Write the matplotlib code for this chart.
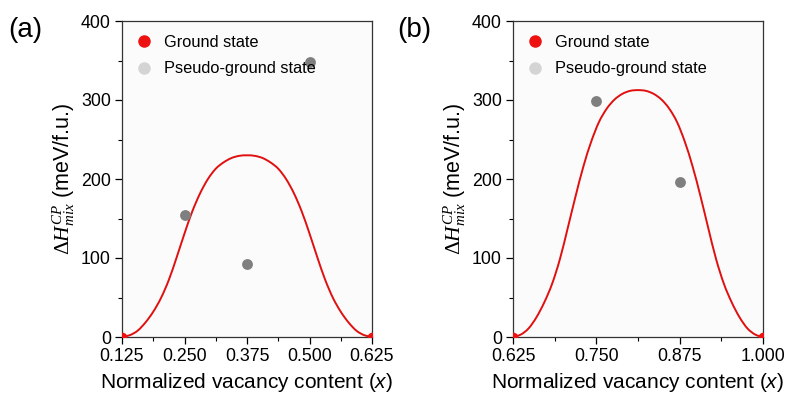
import matplotlib
matplotlib.use("Agg")
import numpy as np
import matplotlib.pyplot as plt
from matplotlib.lines import Line2D
from matplotlib.path import Path
from matplotlib.patches import PathPatch
from matplotlib.ticker import MultipleLocator

plt.rcParams["font.family"] = ["Liberation Sans", "DejaVu Sans"]
plt.rcParams["mathtext.fontset"] = "custom"
plt.rcParams["mathtext.rm"] = "Liberation Serif"
plt.rcParams["mathtext.it"] = "Liberation Serif:italic"
plt.rcParams["mathtext.sf"] = "Liberation Sans:italic"

# ---- panel (a) ----
a_ground_x = [0.125, 0.625]
a_ground_y = [0, 0]
a_pseudo_x = [0.250, 0.375, 0.500]
a_pseudo_y = [155, 93, 348]
# fitted curve
a_curve_x = [0.125, 0.1406, 0.1563, 0.1719, 0.1875, 0.2031, 0.2188, 0.2344,
             0.250, 0.2656, 0.2813, 0.2969, 0.3125, 0.3281, 0.3438, 0.3594,
             0.375, 0.3906, 0.4063, 0.4219, 0.4375, 0.4531, 0.4688, 0.4844,
             0.500, 0.5156, 0.5313, 0.5469, 0.5625, 0.5781, 0.5938, 0.6094, 0.625]
a_curve_y = [0, 2.3, 8, 18.4, 32, 49.5, 72.5, 101,
             131, 159, 182, 200, 213, 221, 226.5, 229.3,
             230, 229.3, 226.5, 221, 213, 200, 182, 159,
             131, 101, 72.5, 49.5, 32, 18.4, 8, 2.3, 0]

# ---- panel (b) ----
b_ground_x = [0.625, 1.000]
b_ground_y = [0, 0]
b_pseudo_x = [0.750, 0.875]
b_pseudo_y = [299, 196]
b_curve_x = [0.625, 0.6367, 0.6484, 0.6602, 0.6719, 0.6836, 0.6953, 0.7070,
             0.7188, 0.7305, 0.7422, 0.7539, 0.7656, 0.7773, 0.7891, 0.8008,
             0.8125, 0.8242, 0.8359, 0.8477, 0.8594, 0.8711, 0.8828, 0.8945,
             0.9063, 0.9180, 0.9297, 0.9414, 0.9531, 0.9648, 0.9766, 0.9883, 1.000]
b_curve_y = [0, 3.1, 10.9, 25, 43.8, 67.2, 98.4, 137.5,
             178, 215.6, 247, 272, 289, 300.6, 307.8, 311.6,
             312.5, 311.6, 307.8, 300.6, 289, 272, 247, 215.6,
             178, 137.5, 98.4, 67.2, 43.8, 25, 10.9, 3.1, 0]

panels = [
    ("(a)", a_ground_x, a_ground_y, a_pseudo_x, a_pseudo_y, a_curve_x, a_curve_y,
     [0.125, 0.250, 0.375, 0.500, 0.625]),
    ("(b)", b_ground_x, b_ground_y, b_pseudo_x, b_pseudo_y, b_curve_x, b_curve_y,
     [0.625, 0.750, 0.875, 1.000]),
]
lefts = [122 / 785, 513 / 785]
label_x = [8 / 785, 397 / 785]


def smooth_path(xs, ys):
    # Catmull-Rom through the read points, drawn as cubic Bezier segments
    pts = np.column_stack([xs, ys]).astype(float)
    n = len(pts)
    verts = [pts[0]]
    codes = [Path.MOVETO]
    for i in range(n - 1):
        p0 = pts[max(i - 1, 0)]
        p1 = pts[i]
        p2 = pts[i + 1]
        p3 = pts[min(i + 2, n - 1)]
        verts += [p1 + (p2 - p0) / 6, p2 - (p3 - p1) / 6, p2]
        codes += [Path.CURVE4] * 3
    return Path(verts, codes)


fig = plt.figure(figsize=(7.85, 3.94), dpi=100)
for k, (tag, gx, gy, px, py, cx, cy, xt) in enumerate(panels):
    ax = fig.add_axes([lefts[k], 57 / 394, 250 / 785, 316 / 394])
    ax.set_facecolor("#fbfbfb")
    ax.add_patch(PathPatch(smooth_path(cx, cy), fill=False, edgecolor="#e01010",
                           lw=1.4, zorder=2, transform=ax.transData))
    ax.plot(px, py, "o", color="#7f7f7f", ms=7.8, mec="none", zorder=3)
    ax.plot(gx, gy, "o", color="#ee1111", ms=7, mec="none", zorder=4)
    ax.set_xlim(xt[0], xt[-1])
    ax.set_ylim(0, 400)
    ax.set_xticks(xt)
    ax.set_xticklabels([f"{v:.3f}" for v in xt])
    ax.xaxis.set_minor_locator(MultipleLocator(0.0625))
    ax.yaxis.set_major_locator(MultipleLocator(100))
    ax.yaxis.set_minor_locator(MultipleLocator(50))
    ax.tick_params(which="major", length=5, width=0.9, labelsize=12.8, pad=3)
    ax.tick_params(which="minor", length=3, width=0.8)
    for s in ax.spines.values():
        s.set_linewidth(0.9)
        s.set_color("#333333")
    ax.set_xlabel("Normalized vacancy content ($\\mathsf{x}$)", fontsize=15, labelpad=4)
    ax.set_ylabel("$\\Delta H_{mix}^{CP}$ (meV/f.u.)", fontsize=15.5, labelpad=3)
    handles = [
        Line2D([], [], ls="none", marker="o", ms=9, color="#ee1111", mec="none"),
        Line2D([], [], ls="none", marker="o", ms=9, color="#d4d4d4", mec="none"),
    ]
    ax.legend(handles, ["Ground state", "Pseudo-ground state"], loc="upper left",
              frameon=False, fontsize=11.8, handletextpad=0.7, labelspacing=0.7,
              borderaxespad=0.45, handlelength=1.0)
    fig.text(label_x[k], 0.925, tag, fontsize=20, va="center")

fig.savefig("out.png", dpi=100)
